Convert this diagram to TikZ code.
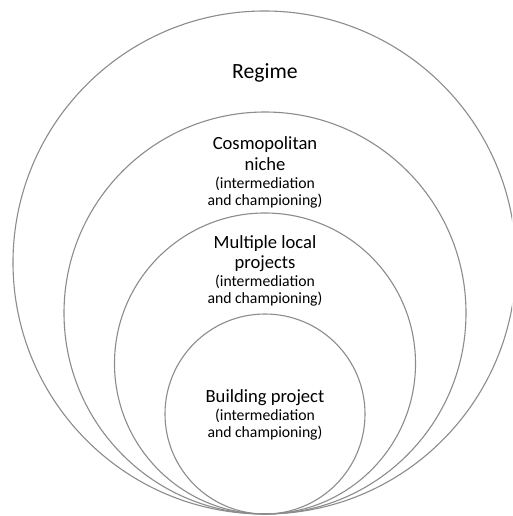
\documentclass[tikz,border=0pt]{standalone}
\usepackage{fontspec}
\setmainfont{Carlito}
\begin{document}
\begin{tikzpicture}[x=1pt,y=-1pt,
  ring/.style={draw=black!45,line width=1.1pt,fill=none},
  big/.style={anchor=base,inner sep=0pt,font=\fontsize{21.7}{24}\selectfont},
  ttl/.style={anchor=base,inner sep=0pt,font=\fontsize{18.6}{21}\selectfont},
  sub/.style={anchor=base,inner sep=0pt,font=\fontsize{15.7}{18}\selectfont}]
\useasboundingbox (0,0) rectangle (512,516);
\clip (0,0) rectangle (512,516);
\fill[white] (0,0) rectangle (512,516);
\draw[ring] (264.5,262.5) circle[radius=251.5pt];
\draw[ring] (265,313) circle[radius=201pt];
\draw[ring] (265,363.5) circle[radius=150.5pt];
\draw[ring] (265,414) circle[radius=100pt];
\node[big] (regime) at (265,79) {Regime};
\node[ttl] (c1) at (265,149) {Cosmopolitan};
\node[ttl] (c2) at (265,170) {niche};
\node[sub] (c3) at (265,188) {(intermediation};
\node[sub] (c4) at (265,205) {and championing)};
\node[ttl] (m1) at (265,248) {Multiple local};
\node[ttl] (m2) at (265,268) {projects};
\node[sub] (m3) at (265,286) {(intermediation};
\node[sub] (m4) at (265,303) {and championing)};
\node[ttl] (b1) at (265,402) {Building project};
\node[sub] (b2) at (265,420) {(intermediation};
\node[sub] (b3) at (265,437) {and championing)};
\end{tikzpicture}
\end{document}
